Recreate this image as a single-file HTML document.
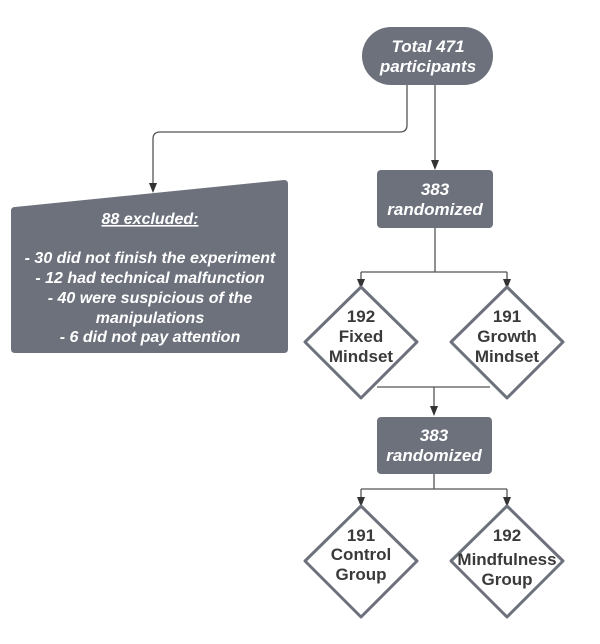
<!DOCTYPE html>
<html><head><style>
html,body{margin:0;padding:0;background:#fff;}
svg{display:block;}
.w{font-family:"Liberation Sans",sans-serif;font-weight:bold;font-style:italic;fill:#fff;font-size:17px;text-anchor:middle;}
.d{font-family:"Liberation Sans",sans-serif;font-weight:bold;fill:#3a3a3a;font-size:17px;text-anchor:middle;}
.e{font-family:"Liberation Sans",sans-serif;font-weight:bold;font-style:italic;fill:#fff;font-size:16px;text-anchor:middle;}
</style></head><body>
<svg width="600" height="644" viewBox="0 0 600 644" xmlns="http://www.w3.org/2000/svg">
<g stroke="#555" stroke-width="1.3" fill="none">
<path d="M407,85 V125 Q407,132 400,132 H160 Q153,132 153,139 V185"/>
<path d="M435,85 V162"/>
<path d="M435,228 V272 M361,272 H507"/>
<path d="M361,272 V282"/>
<path d="M507,272 V282"/>
<path d="M377,387 H490 M434,387 V408"/>
<path d="M434,474 V489 M361,489 H507"/>
<path d="M361,489 V499"/>
<path d="M507,489 V499"/>
</g>
<g fill="#333">
<path d="M149,183 L157,183 L153,193 Z"/>
<path d="M431,160 L439,160 L435,170 Z"/>
<path d="M357,279 L365,279 L361,289 Z"/>
<path d="M503,279 L511,279 L507,289 Z"/>
<path d="M430,406 L438,406 L434,416 Z"/>
<path d="M357,497 L365,497 L361,507 Z"/>
<path d="M503,497 L511,497 L507,507 Z"/>
</g>
<rect x="362" y="27" width="131" height="58" rx="29" fill="#6c717c"/>
<text class="w" x="428" y="52">Total 471</text>
<text class="w" x="428" y="72">participants</text>
<rect x="377" y="170" width="116" height="58" rx="4" fill="#6c717c"/>
<text class="w" x="435" y="195">383</text>
<text class="w" x="435" y="215">randomized</text>
<path d="M15,207 L284,180 Q288,180 288,184 V349 Q288,353 284,353 H15 Q11,353 11,349 V211 Q11,207 15,207 Z" fill="#6c717c"/>
<text class="e" x="150" y="224" text-decoration="underline">88 excluded:</text>
<text class="e" x="150" y="263">- 30 did not finish the experiment</text>
<text class="e" x="150" y="283">- 12 had technical malfunction</text>
<text class="e" x="150" y="303">- 40 were suspicious of the</text>
<text class="e" x="150" y="323">manipulations</text>
<text class="e" x="150" y="342">- 6 did not pay attention</text>
<g fill="#fff" stroke="#6c717c" stroke-width="3" stroke-linejoin="round">
<path d="M361,287 L417,342 L361,398 L305,342 Z"/>
<path d="M507,287 L563,342 L507,398 L451,342 Z"/>
<path d="M361,506 L417,561 L361,617 L305,561 Z"/>
<path d="M507,506 L563,561 L507,617 L451,561 Z"/>
</g>
<text class="d" x="361" y="322">192</text>
<text class="d" x="361" y="342">Fixed</text>
<text class="d" x="361" y="362">Mindset</text>
<text class="d" x="507" y="322">191</text>
<text class="d" x="507" y="342">Growth</text>
<text class="d" x="507" y="362">Mindset</text>
<rect x="377" y="417" width="115" height="57" rx="4" fill="#6c717c"/>
<text class="w" x="434" y="441">383</text>
<text class="w" x="434" y="461">randomized</text>
<text class="d" x="361" y="541">191</text>
<text class="d" x="361" y="560">Control</text>
<text class="d" x="361" y="580">Group</text>
<text class="d" x="507" y="541">192</text>
<text class="d" x="507" y="565">Mindfulness</text>
<text class="d" x="507" y="585">Group</text>
</svg>
</body></html>
